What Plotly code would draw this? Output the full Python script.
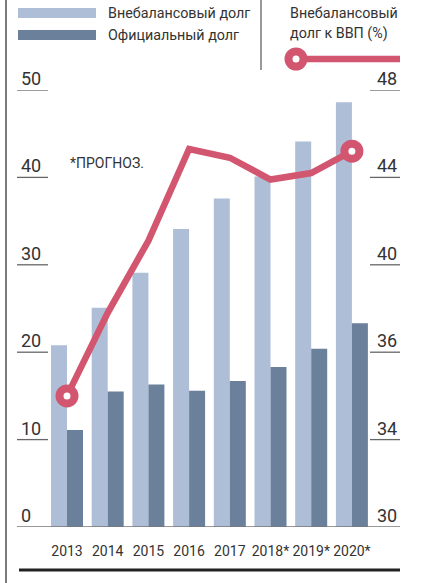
import numpy as np
import plotly.graph_objects as go

years = ["2013", "2014", "2015", "2016", "2017", "2018*", "2019*", "2020*"]
offbalance_debt = [20.8, 25.1, 29.1, 34.1, 37.6, 40.1, 44.1, 48.6]
official_debt = [11.1, 15.5, 16.3, 15.6, 16.7, 18.3, 20.4, 23.3]
offbalance_to_gdp = [35.0, 37.8, 41.1, 45.3, 44.9, 43.9, 44.2, 45.2]

left_ticks = [0, 10, 20, 30, 40, 50]
left_tick_labels = ["0", "10", "20", "30", "40", "50"]
right_ticks = [30, 34, 36, 40, 44, 48]
right_tick_labels = ["30", "34", "36", "40", "44", "48"]

LIGHT = "#aebed7"
DARK = "#6a809b"
PINK = "#d2566f"
TXT = "#333333"
FONT = "Roboto, Liberation Sans, sans-serif"

W, H = 427, 583
ML, MR, MT, MB = 17, 27, 90, 56
PW, PH = W - ML - MR, H - MT - MB


def px(x):
    return (x - ML) / PW


def py(y):
    return (H - MB - y) / PH


# right axis is drawn with evenly spaced (non-linear) ticks; map values onto it
pos = np.interp(offbalance_to_gdp, right_ticks, left_ticks)
n = len(years)
xs = list(range(n))

fig = go.Figure()
fig.add_bar(x=xs, y=offbalance_debt, marker_color=LIGHT,
            marker_line_width=0, name="Внебалансовый долг")
fig.add_bar(x=xs, y=official_debt, marker_color=DARK,
            marker_line_width=0, name="Официальный долг")
fig.add_scatter(x=xs, y=pos, yaxis="y2", mode="lines",
                line=dict(color=PINK, width=6.5), cliponaxis=False,
                name="Внебалансовый долг к ВВП (%)")
fig.add_scatter(x=[xs[0], xs[-1]], y=[pos[0], pos[-1]], yaxis="y2", mode="markers",
                marker=dict(size=15, color="white", opacity=1,
                            line=dict(color=PINK, width=8)),
                cliponaxis=False, showlegend=False)

shapes = []
annotations = []
for v, lab in zip(left_ticks, left_tick_labels):
    if v != 0:
        shapes.append(dict(type="line", xref="paper", yref="y", x0=0, x1=px(48), y0=v, y1=v,
                           line=dict(color="#666", width=1.3)))
    annotations.append(dict(xref="paper", yref="y", x=px(19), y=v, text=lab, showarrow=False,
                            xanchor="left", yanchor="bottom", yshift=-1,
                            font=dict(size=18, color=TXT, family=FONT)))
for v, lab in zip(left_ticks, right_tick_labels):
    if v != 0:
        shapes.append(dict(type="line", xref="paper", yref="y", x0=px(370), x1=1, y0=v, y1=v,
                           line=dict(color="#666", width=1.3)))
    annotations.append(dict(xref="paper", yref="y", x=px(399), y=v, text=lab, showarrow=False,
                            xanchor="right", yanchor="bottom", yshift=-1,
                            font=dict(size=18, color=TXT, family=FONT)))

shapes.append(dict(type="line", xref="paper", yref="y", x0=0, x1=1, y0=0, y1=0,
                   line=dict(color="#777", width=1.5)))
shapes.append(dict(type="line", xref="paper", yref="paper", x0=px(19), x1=px(400),
                   y0=py(570), y1=py(570), line=dict(color="#222", width=3)))
shapes.append(dict(type="line", xref="paper", yref="paper", x0=px(6), x1=px(6),
                   y0=py(583), y1=py(0), line=dict(color="#333", width=1.3)))
shapes.append(dict(type="line", xref="paper", yref="paper", x0=px(261), x1=px(261),
                   y0=py(70), y1=py(0), line=dict(color="#555", width=1.2)))
shapes.append(dict(type="rect", xref="paper", yref="paper", x0=px(18), x1=px(96),
                   y0=py(18), y1=py(8), fillcolor=LIGHT, line_width=0))
shapes.append(dict(type="rect", xref="paper", yref="paper", x0=px(18), x1=px(96),
                   y0=py(40), y1=py(30), fillcolor=DARK, line_width=0))
shapes.append(dict(type="line", xref="paper", yref="paper", x0=px(296), x1=px(400),
                   y0=py(59), y1=py(59), line=dict(color=PINK, width=6.5)))
shapes.append(dict(type="circle", xref="paper", yref="paper", x0=px(288.5), x1=px(303.5),
                   y0=py(66.5), y1=py(51.5), fillcolor="white", line=dict(color=PINK, width=8)))

for txt, x, y in [("Внебалансовый долг", 106, 13), ("Официальный долг", 106, 35),
                  ("Внебалансовый", 288, 13), ("долг к ВВП (%)", 288, 34)]:
    annotations.append(dict(xref="paper", yref="paper", x=px(x), y=py(y), text=txt,
                            showarrow=False, xanchor="left", yanchor="middle",
                            font=dict(size=14.3, color=TXT, family=FONT)))
annotations.append(dict(xref="paper", yref="paper", x=px(68), y=py(163), text="*ПРОГНОЗ.",
                        showarrow=False, xanchor="left", yanchor="middle",
                        font=dict(size=14, color=TXT, family=FONT)))

spacing = 40.7
x0 = -(67 - ML) / spacing
x1 = x0 + PW / spacing

fig.update_layout(
    width=W, height=H, margin=dict(l=ML, r=MR, t=MT, b=MB, autoexpand=False),
    paper_bgcolor="white", plot_bgcolor="white",
    barmode="group", bargap=0.214, bargroupgap=0,
    showlegend=False,
    xaxis=dict(range=[x0, x1], tickmode="array", tickvals=xs, ticktext=years,
               tickangle=0, automargin=False,
               showgrid=False, zeroline=False, showline=False,
               ticks="outside", ticklen=11, tickcolor="rgba(0,0,0,0)",
               tickfont=dict(size=14, color=TXT, family=FONT)),
    yaxis=dict(range=[0, 50], showgrid=False, zeroline=False, showticklabels=False,
               showline=False, ticks="", automargin=False),
    yaxis2=dict(range=[0, 50], overlaying="y", showgrid=False, zeroline=False,
                showticklabels=False, showline=False, ticks="", automargin=False),
    shapes=shapes, annotations=annotations,
)

fig.write_html("out.html", config={"displayModeBar": False},
               post_script="document.body.style.margin='0';document.body.style.overflow='hidden';")
